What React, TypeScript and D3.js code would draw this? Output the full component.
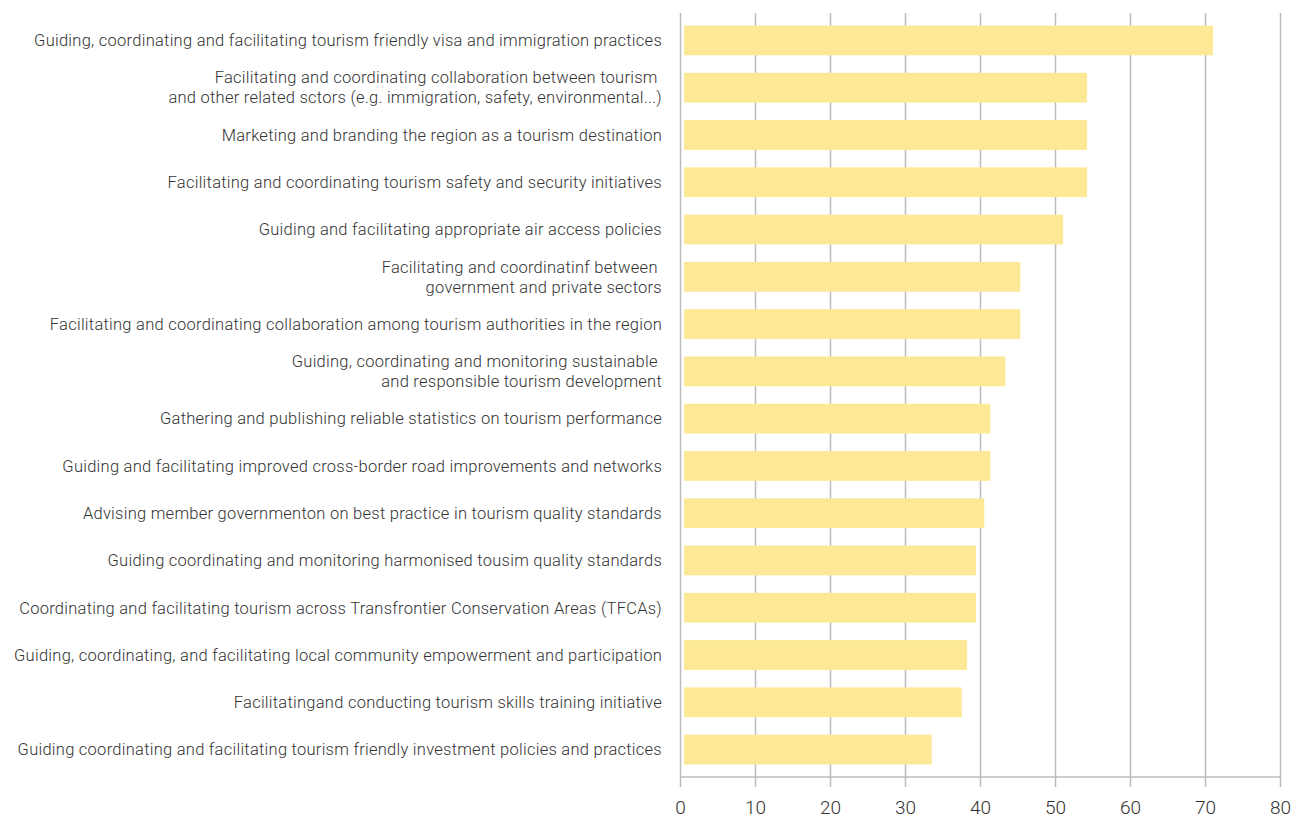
import React, { useEffect, useRef } from "react";
import * as d3 from "d3";

const categories = [
  "Guiding, coordinating and facilitating tourism friendly visa and immigration practices",
  "Facilitating and coordinating collaboration between tourism \nand other related sctors (e.g. immigration, safety, environmental...)",
  "Marketing and branding the region as a tourism destination",
  "Facilitating and coordinating tourism safety and security initiatives",
  "Guiding and facilitating appropriate air access policies",
  "Facilitating and coordinatinf between \ngovernment and private sectors",
  "Facilitating and coordinating collaboration among tourism authorities in the region",
  "Guiding, coordinating and monitoring sustainable \nand responsible tourism development",
  "Gathering and publishing reliable statistics on tourism performance",
  "Guiding and facilitating improved cross-border road improvements and networks",
  "Advising member governmenton on best practice in tourism quality standards",
  "Guiding coordinating and monitoring harmonised tousim quality standards",
  "Coordinating and facilitating tourism across Transfrontier Conservation Areas (TFCAs)",
  "Guiding, coordinating, and facilitating local community empowerment and participation",
  "Facilitatingand conducting tourism skills training initiative",
  "Guiding coordinating and facilitating tourism friendly investment policies and practices",
];

const values = [71.0, 54.2, 54.2, 54.2, 51.0, 45.3, 45.3, 43.3, 41.3, 41.3, 40.5, 39.4, 39.4, 38.2, 37.5, 33.5];

const xTicks = [0, 10, 20, 30, 40, 50, 60, 70, 80];

const W = 1295;
const H = 818;

const App = () => {
  const ref = useRef<SVGSVGElement>(null);

  useEffect(() => {
    const svg = d3.select(ref.current);
    svg.selectAll("*").remove();

    const x = d3.scaleLinear().domain([0, 80]).range([680.5, 1280.5]);
    const y = d3
      .scaleBand()
      .domain(categories.map((d, i) => String(i)))
      .range([13, 777])
      .paddingInner(0.37)
      .paddingOuter(0.265);

    const gridColor = "#bcbcc0";

    // vertical grid lines
    svg
      .append("g")
      .selectAll("line")
      .data(xTicks)
      .enter()
      .append("line")
      .attr("x1", (d) => x(d))
      .attr("x2", (d) => x(d))
      .attr("y1", 13)
      .attr("y2", 787)
      .attr("stroke", gridColor)
      .attr("stroke-width", 1.5);

    // bottom axis line
    svg
      .append("line")
      .attr("x1", x(0))
      .attr("x2", x(80))
      .attr("y1", 777)
      .attr("y2", 777)
      .attr("stroke", gridColor)
      .attr("stroke-width", 1.5);

    // bars
    svg
      .append("g")
      .selectAll("rect")
      .data(values)
      .enter()
      .append("rect")
      .attr("x", x(0) + 3.5)
      .attr("y", (d, i) => y(String(i)))
      .attr("width", (d) => x(d) - x(0) - 3.5)
      .attr("height", y.bandwidth())
      .attr("fill", "#fde995");

    // tick labels
    svg
      .append("g")
      .selectAll("text")
      .data(xTicks)
      .enter()
      .append("text")
      .attr("x", (d) => x(d))
      .attr("y", 814)
      .attr("text-anchor", "middle")
      .attr("font-size", 19)
      .attr("font-weight", 300)
      .attr("fill", "#333")
      .text((d) => d);

    // category labels
    const labels = svg
      .append("g")
      .selectAll("text")
      .data(categories)
      .enter()
      .append("text")
      .attr("text-anchor", "end")
      .attr("font-size", 16.5)
      .attr("font-weight", 300)
      .attr("letter-spacing", 0.26)
      .attr("fill", "#333")
      .style("white-space", "pre");

    labels.each(function (d, i) {
      const lines = d.split("\n");
      const cy = (y(String(i)) as number) + y.bandwidth() / 2;
      const lh = 20;
      const t = d3.select(this);
      lines.forEach((line, j) => {
        t.append("tspan")
          .attr("x", 662)
          .attr("y", cy + (j - (lines.length - 1) / 2) * lh)
          .attr("dy", "0.35em")
          .text(line);
      });
    });
  }, []);

  return (
    <div style={{ position: "absolute", left: 0, top: 0 }}>
      <svg
        ref={ref}
        width={W}
        height={H}
        style={{ display: "block", fontFamily: "Roboto, 'Liberation Sans', sans-serif", background: "#fff" }}
      />
    </div>
  );
};

export default App;
